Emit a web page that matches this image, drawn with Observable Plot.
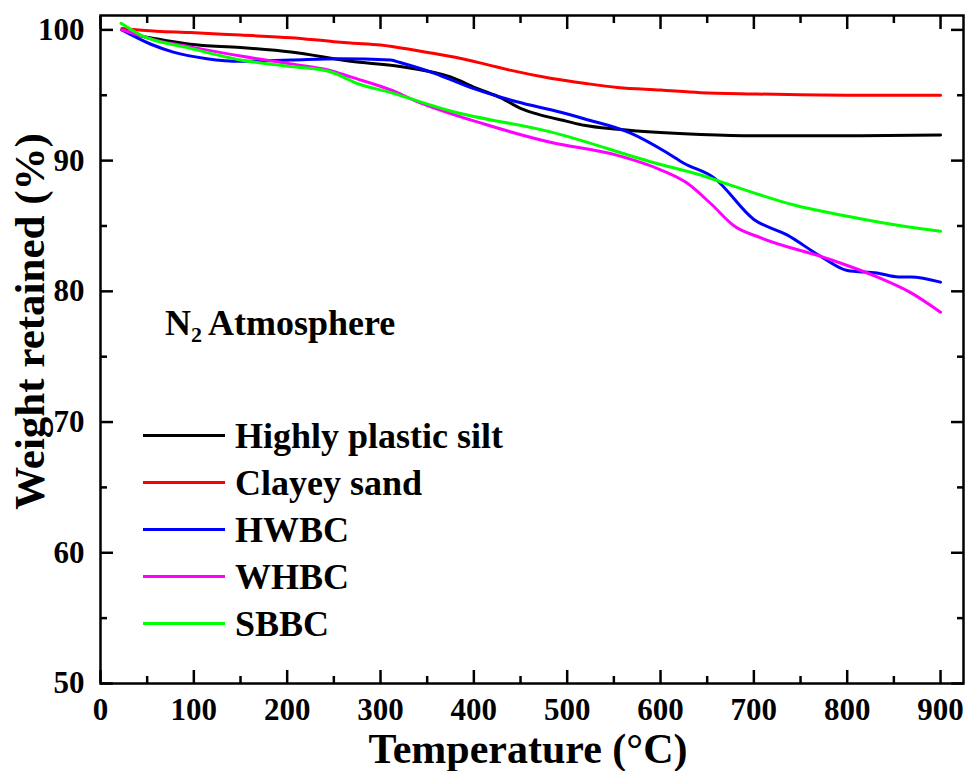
<!DOCTYPE html>
<html>
<head>
<meta charset="utf-8">
<script src="https://cdn.jsdelivr.net/npm/d3@7"></script>
<script src="https://cdn.jsdelivr.net/npm/@observablehq/plot@0.6"></script>
<style>
  body { margin: 0; background: #fff; }
  #wrap { position: relative; width: 966px; height: 771px; font-family: "Liberation Serif", "Times New Roman", serif; font-weight: bold; color: #000; }
  #wrap svg { display: block; }
  .note { position: absolute; left: 165px; top: 302px; font-size: 36px; white-space: nowrap; }
  .note sub { font-size: 22px; vertical-align: -7px; line-height: 0; margin-right: 6px; }
  .legend { position: absolute; left: 143px; top: 412px; }
  .row { display: flex; align-items: center; height: 47px; white-space: nowrap; font-size: 36px; }
  .sw { width: 82px; height: 0; border-top: 3px solid; margin-right: 10px; }
</style>
</head>
<body>
<div id="wrap"></div>
<script>
// ---- data ----
const seriesNames = ["Highly plastic silt", "Clayey sand", "HWBC", "WHBC", "SBBC"];
const seriesColors = ["#000000", "#ff0000", "#0000ff", "#ff00ff", "#00ff00"];

const siltT = [23, 40, 61, 96, 150, 204, 268, 321, 375, 404, 429, 450, 471, 500, 518, 554, 600, 643, 700, 800, 900];
const siltW = [100, 99.6, 99.3, 98.9, 98.65, 98.3, 97.6, 97.2, 96.4, 95.5, 94.8, 94.0, 93.5, 93.0, 92.7, 92.4, 92.15, 92.0, 91.9, 91.9, 91.95];

const sandT = [23, 60, 96, 150, 204, 250, 268, 300, 340, 380, 411, 440, 482, 520, 554, 600, 643, 700, 800, 900];
const sandW = [100.1, 99.9, 99.8, 99.6, 99.4, 99.1, 99.0, 98.85, 98.4, 97.9, 97.4, 96.9, 96.3, 95.9, 95.6, 95.4, 95.2, 95.1, 95.0, 95.0];

const hwbcT = [23, 54, 78, 114, 150, 204, 257, 311, 321, 357, 400, 446, 493, 518, 568, 607, 625, 657, 700, 736, 771, 800, 832, 855, 868, 900];
const hwbcW = [100, 98.9, 98.3, 97.8, 97.6, 97.7, 97.8, 97.7, 97.5, 96.7, 95.5, 94.5, 93.7, 93.2, 92.1, 90.6, 89.8, 88.7, 85.5, 84.3, 82.7, 81.6, 81.4, 81.1, 81.1, 80.7];

const whbcT = [23, 60, 96, 150, 204, 246, 268, 311, 340, 411, 482, 554, 600, 628, 654, 679, 707, 779, 832, 868, 900];
const whbcW = [100.0, 99.2, 98.7, 98.0, 97.4, 96.9, 96.4, 95.4, 94.5, 92.8, 91.4, 90.4, 89.3, 88.3, 86.7, 85.0, 84.1, 82.5, 81.1, 79.9, 78.4];

const sbbcT = [22, 43, 96, 150, 204, 246, 275, 311, 375, 482, 600, 643, 672, 743, 796, 868, 900];
const sbbcW = [100.5, 99.6, 98.6, 97.7, 97.2, 96.8, 95.9, 95.2, 93.8, 92.2, 89.7, 88.9, 88.2, 86.6, 85.8, 84.9, 84.6];

const xTicks = [0, 100, 200, 300, 400, 500, 600, 700, 800, 900];
const xMinor = [50, 150, 250, 350, 450, 550, 650, 750, 850];
const yTicks = [50, 60, 70, 80, 90, 100];
const yMinor = [55, 65, 75, 85, 95];

const xTitle = "Temperature (°C)";
const yTitle = "Weight retained (%)";

// ---- build rows ----
const seriesT = [siltT, sandT, hwbcT, whbcT, sbbcT];
const seriesW = [siltW, sandW, hwbcW, whbcW, sbbcW];
const rows = [];
seriesNames.forEach((name, i) => {
  seriesT[i].forEach((t, j) => rows.push({name, T: t, W: seriesW[i][j]}));
});

const font = '"Liberation Serif", "Times New Roman", serif';
const tickCommon = {label: null, strokeWidth: 2.5, fill: "none", tickFormat: () => ""};

const plot = Plot.plot({
  width: 966,
  height: 771,
  marginLeft: 100,
  marginRight: 3,
  marginTop: 15,
  marginBottom: 88,
  x: {domain: [0, 924.6]},
  y: {domain: [50, 101.1]},
  color: {domain: seriesNames, range: seriesColors},
  style: {fontFamily: font, fontWeight: "bold", background: "white", color: "black", overflow: "visible"},
  marks: [
    Plot.line(rows, {x: "T", y: "W", z: "name", stroke: "name", strokeWidth: 3, curve: "monotone-x"}),
    Plot.frame({strokeWidth: 2.5}),
    // inward ticks on all four sides
    Plot.axisX(xTicks, {...tickCommon, anchor: "bottom", tickSize: -13}),
    Plot.axisX(xMinor, {...tickCommon, anchor: "bottom", tickSize: -7}),
    Plot.axisX(xTicks, {...tickCommon, anchor: "top", tickSize: -13}),
    Plot.axisX(xMinor, {...tickCommon, anchor: "top", tickSize: -7}),
    Plot.axisY(yTicks, {...tickCommon, anchor: "left", tickSize: -13}),
    Plot.axisY(yMinor, {...tickCommon, anchor: "left", tickSize: -7}),
    Plot.axisY(yTicks, {...tickCommon, anchor: "right", tickSize: -13}),
    Plot.axisY(yMinor, {...tickCommon, anchor: "right", tickSize: -7}),
    // tick labels
    Plot.axisX(xTicks, {anchor: "bottom", tickSize: 0, tickPadding: 14, fontSize: 31, label: null, tickFormat: d => String(d)}),
    Plot.axisY(yTicks, {anchor: "left", tickSize: 0, tickPadding: 16, fontSize: 31, label: null, tickFormat: d => String(d)}),
    // axis titles
    Plot.text([xTitle], {frameAnchor: "bottom", text: d => d, dy: 79, dx: -4, lineAnchor: "bottom", textAnchor: "middle", fontSize: 42, fontWeight: "bold"}),
    Plot.text([yTitle], {frameAnchor: "left", text: d => d, rotate: -90, dx: -57, dy: -28, lineAnchor: "bottom", textAnchor: "middle", fontSize: 43, fontWeight: "bold"})
  ]
});

const wrap = document.getElementById("wrap");
wrap.appendChild(plot);

// annotation
const note = document.createElement("div");
note.className = "note";
note.innerHTML = "N<sub>2</sub>Atmosphere";
wrap.appendChild(note);

// legend
const legend = document.createElement("div");
legend.className = "legend";
seriesNames.forEach((name, i) => {
  const row = document.createElement("div");
  row.className = "row";
  const sw = document.createElement("span");
  sw.className = "sw";
  sw.style.borderTopColor = seriesColors[i];
  const lab = document.createElement("span");
  lab.textContent = name;
  row.appendChild(sw);
  row.appendChild(lab);
  legend.appendChild(row);
});
wrap.appendChild(legend);
</script>
</body>
</html>
